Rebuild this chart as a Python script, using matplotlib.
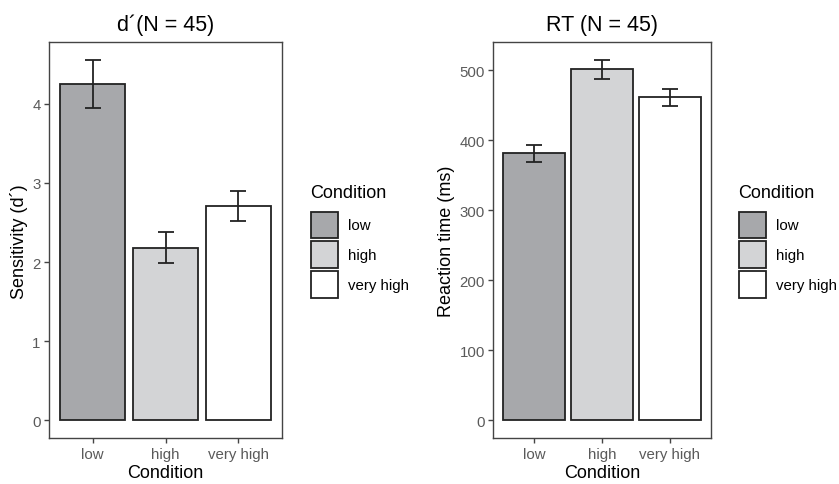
import matplotlib
matplotlib.use("Agg")
import matplotlib.pyplot as plt
import numpy as np

plt.rcParams['font.family'] = ['Liberation Sans', 'DejaVu Sans']

categories = ["low", "high", "very high"]
fills = ["#a7a8ab", "#d3d4d6", "#ffffff"]

dprime_mean = [4.25, 2.18, 2.71]
dprime_se = [0.30, 0.195, 0.19]

rt_mean = [381, 501, 461]
rt_se = [11.5, 13, 12]

fig = plt.figure(figsize=(8.39, 4.85), dpi=100)

W, H = 839, 485
def fax(x0, x1, ytop, ybot):
    return fig.add_axes([x0 / W, 1 - ybot / H, (x1 - x0) / W, (ybot - ytop) / H])

ax1 = fax(49, 282, 43.3, 439.3)
ax2 = fax(493.3, 710.7, 43.3, 439.3)

tick_col = "#5a5a5a"
spine_col = "#444444"

def draw(ax, means, ses, title, ylabel, yticks, legx):
    x = np.arange(1, len(categories) + 1)
    bars = ax.bar(x, means, width=0.9, color=fills, edgecolor="#222222",
                  linewidth=1.3, zorder=2)
    ax.errorbar(x, means, yerr=ses, fmt="none", ecolor="#222222",
                elinewidth=1.3, capsize=6, capthick=1.3, zorder=3)
    top = max(m + s for m, s in zip(means, ses))
    ax.set_ylim(-0.05 * top, top * 1.05)
    ax.set_xlim(0.4, 3.6)
    ax.set_xticks(x)
    ax.set_xticklabels(categories)
    ax.set_yticks(yticks)
    ax.tick_params(axis="both", length=3.5, width=1.0, color=spine_col,
                   labelsize=10.8, labelcolor=tick_col, pad=2.5)
    for s in ax.spines.values():
        s.set_color(spine_col)
        s.set_linewidth(1.0)
    ax.set_title(title, fontsize=15.5, pad=9)
    ax.set_xlabel("Condition", fontsize=13, labelpad=2.5)
    ax.set_ylabel(ylabel, fontsize=13, labelpad=3)
    fig.text(legx / W, 1 - 193.5 / H, "Condition", fontsize=13,
             ha="left", va="center")
    leg = fig.legend(bars, categories, loc="upper left",
                     bbox_to_anchor=(legx / W, 1 - 212.5 / H), frameon=False,
                     fontsize=10.8, borderpad=0,
                     handlelength=1.85, handleheight=2.33, labelspacing=0.24,
                     handletextpad=0.65, borderaxespad=0)
    return leg

draw(ax1, dprime_mean, dprime_se, "d\u00b4(N = 45)", "Sensitivity (d\u00b4)",
     [0, 1, 2, 3, 4], 310.5)
draw(ax2, rt_mean, rt_se, "RT (N = 45)", "Reaction time (ms)",
     [0, 100, 200, 300, 400, 500], 738.5)

fig.savefig("out.png", dpi=100)
